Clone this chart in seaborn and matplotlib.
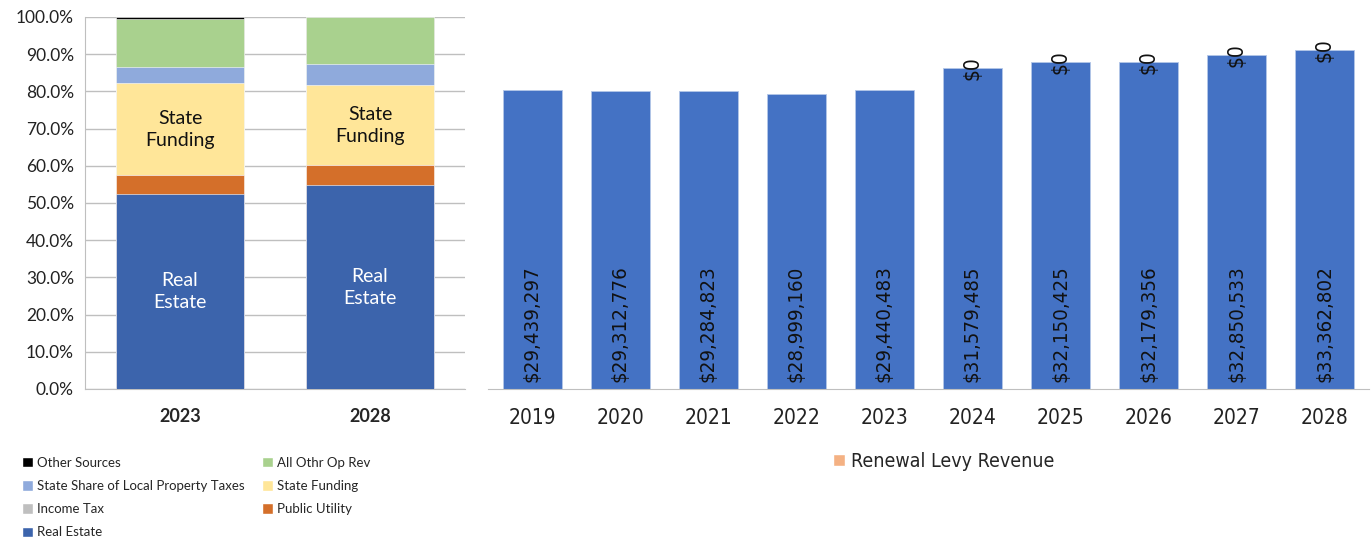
import seaborn as sns
import matplotlib.pyplot as plt
from matplotlib.patches import Patch
from matplotlib import font_manager
import numpy as np

# left chart: revenue mix (% of total)
mix_years = ['2023', '2028']
real_estate = [52.3, 54.7]
public_utility = [5.1, 5.4]
income_tax = [0.0, 0.0]
state_funding = [24.9, 21.7]
state_share = [4.3, 5.6]
all_othr = [12.9, 12.5]
other_sources = [0.5, 0.1]

# right chart: renewal levy
levy_years = ['2019', '2020', '2021', '2022', '2023', '2024', '2025', '2026', '2027', '2028']
levy_base = [29439297, 29312776, 29284823, 28999160, 29440483,
             31579485, 32150425, 32179356, 32850533, 33362802]
renewal_levy = [None, None, None, None, None, 0, 0, 0, 0, 0]

sns.set_style('white')
plt.rcParams['font.family'] = ['Lato', 'DejaVu Sans']

series = [
    ('Real Estate', real_estate, '#3C64AC'),
    ('Public Utility', public_utility, '#D46F2A'),
    ('Income Tax', income_tax, '#BFBFBF'),
    ('State Funding', state_funding, '#FFE699'),
    ('State Share of Local Property Taxes', state_share, '#8FAADC'),
    ('All Othr Op Rev', all_othr, '#A9D18E'),
    ('Other Sources', other_sources, '#000000'),
]

narrow = font_manager.FontProperties(family='DejaVu Sans', stretch='condensed')

fig = plt.figure(figsize=(13.72, 5.41), dpi=100)
ax1 = fig.add_axes([0.062, 0.281, 0.277, 0.6876])
ax2 = fig.add_axes([0.3557, 0.281, 0.642, 0.6876])

# stacked bars drawn as overlapping cumulative totals, top series first
cum = np.cumsum([s[1] for s in series], axis=0)
for i in range(len(series) - 1, -1, -1):
    sns.barplot(x=mix_years, y=cum[i], color=series[i][2], width=0.67,
                saturation=1, edgecolor='white', linewidth=0.4, ax=ax1, zorder=3)

for j in range(2):
    ax1.text(j, real_estate[j] / 2, 'Real\nEstate', ha='center', va='center', color='white',
             fontsize=14, linespacing=1.35, zorder=5)
    base_sf = real_estate[j] + public_utility[j] + income_tax[j]
    ax1.text(j, base_sf + state_funding[j] / 2, 'State\nFunding', ha='center', va='center',
             color='#111111', fontsize=14, linespacing=1.35, zorder=5)

ax1.set_xlim(-0.5, 1.5)
ax1.set_ylim(0, 100)
ax1.set_yticks(np.arange(0, 101, 10))
ax1.set_yticklabels([f'{v:.1f}%' for v in np.arange(0, 101, 10)], fontsize=12.5, color='#222222')
ax1.yaxis.grid(True, color='#BFBFBF', linewidth=1, zorder=0)
ax1.set_axisbelow(True)
ax1.tick_params(axis='y', length=5, color='#BFBFBF', pad=3)
ax1.tick_params(axis='x', which='major', length=0, pad=14, labelsize=13)
ax1.set_xticks([-0.5, 0.5, 1.5], minor=True)
ax1.tick_params(axis='x', which='minor', length=6, color='#BFBFBF', width=1)
for lab in ax1.get_xticklabels():
    lab.set_fontweight('bold')
ax1.set_xlabel('')
for side in ['top', 'right']:
    ax1.spines[side].set_visible(False)
for side in ['left', 'bottom']:
    ax1.spines[side].set_color('#BFBFBF')

# right chart
sns.barplot(x=levy_years, y=levy_base, color='#4472C4', width=0.67, saturation=1,
            edgecolor='#B4C7E7', linewidth=0.6, ax=ax2)
for i, v in enumerate(levy_base):
    ax2.annotate(f'${v:,}', (i, 0), xytext=(0, 5), textcoords='offset points',
                 rotation=90, ha='center', va='bottom', color='#111111',
                 fontproperties=narrow, fontsize=14.7)
    if renewal_levy[i] is not None:
        ax2.text(i, v + renewal_levy[i], f'${renewal_levy[i]}', rotation=90, ha='center',
                 va='center', color='#111111', fontproperties=narrow, fontsize=15)

ax2.set_xlim(-0.5, 9.5)
ax2.set_ylim(0, 36.6e6)
ax2.set_yticks([])
ax2.set_xticks(range(10))
ax2.set_xticklabels(levy_years, color='#222222', fontproperties=narrow, fontsize=15)
ax2.tick_params(axis='x', which='major', length=0, pad=14)
ax2.set_xticks(np.arange(-0.5, 10, 1), minor=True)
ax2.tick_params(axis='x', which='minor', length=6, color='#BFBFBF', width=1)
for side in ['top', 'right', 'left']:
    ax2.spines[side].set_visible(False)
ax2.spines['bottom'].set_color('#BFBFBF')

# legends
col = {s[0]: s[2] for s in series}
order = ['Other Sources', 'State Share of Local Property Taxes', 'Income Tax', 'Real Estate',
         'All Othr Op Rev', 'State Funding', 'Public Utility']
handles = [Patch(facecolor=col[n], label=n) for n in order]
fig.legend(handles=handles, loc='upper left', bbox_to_anchor=(0.011, 0.168), ncol=2,
           frameon=False, fontsize=9.5, handlelength=0.85, handleheight=0.85,
           handletextpad=0.3, columnspacing=1.3, labelspacing=0.85, borderpad=0)

leg_font = font_manager.FontProperties(family='DejaVu Sans', stretch='condensed', size=14)
fig.legend(handles=[Patch(facecolor='#F4B183', label='Renewal Levy Revenue')],
           loc='center', bbox_to_anchor=(0.688, 0.147), frameon=False,
           handlelength=0.6, handleheight=0.6, handletextpad=0.3, prop=leg_font)

fig.savefig('out.png', dpi=100)
